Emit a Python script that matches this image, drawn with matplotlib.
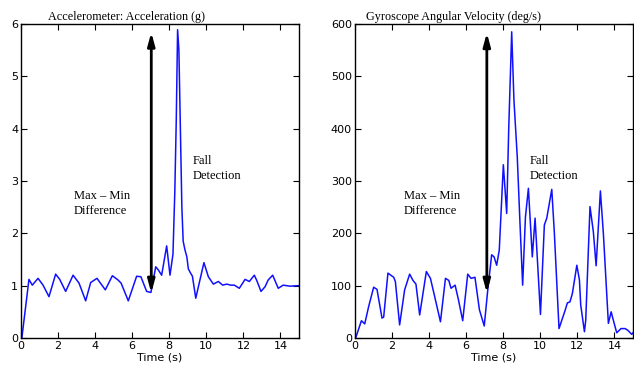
import sys
import numpy as np
import matplotlib
matplotlib.use('Agg')
import matplotlib.pyplot as plt

# accelerometer, g
ACC_T = [0.05, 0.43, 0.61, 0.92, 1.19, 1.51, 1.87, 2.09, 2.41, 2.81, 3.13, 3.49, 3.76,
         4.10, 4.55, 4.93, 5.23, 5.40, 5.79, 6.24, 6.47, 6.78, 7.01, 7.27, 7.41, 7.59,
         7.86, 8.04, 8.20, 8.30, 8.38, 8.45, 8.52, 8.60, 8.68, 8.75, 8.85, 8.95, 9.03,
         9.15, 9.25, 9.43, 9.87, 10.11, 10.38, 10.65, 10.88, 11.10, 11.31, 11.51, 11.78,
         12.09, 12.32, 12.59, 12.72, 12.95, 13.17, 13.34, 13.58, 13.88, 14.15, 14.51, 14.96]
ACC_G = [0.01, 1.12, 1.01, 1.14, 1.01, 0.79, 1.22, 1.12, 0.89, 1.20, 1.05, 0.71, 1.06,
         1.14, 0.92, 1.19, 1.11, 1.05, 0.71, 1.18, 1.17, 0.89, 0.87, 1.36, 1.30, 1.20,
         1.76, 1.20, 1.60, 2.80, 4.20, 5.89, 5.50, 4.00, 2.50, 1.85, 1.68, 1.55, 1.32,
         1.24, 1.18, 0.76, 1.44, 1.17, 1.03, 1.08, 1.01, 1.03, 1.01, 1.01, 0.95,
         1.12, 1.08, 1.20, 1.10, 0.89, 0.98, 1.11, 1.20, 0.95, 1.01, 0.99, 1.00]

# gyroscope, deg/s
GYR_T = [0.07, 0.36, 0.54, 0.75, 1.02, 1.20, 1.47, 1.56, 1.79, 2.10, 2.19, 2.42, 2.69,
         2.96, 3.14, 3.30, 3.50, 3.86, 4.08, 4.31, 4.62, 4.89, 5.07, 5.19, 5.41, 5.59,
         5.82, 6.09, 6.27, 6.48, 6.72, 6.98, 7.17, 7.38, 7.51, 7.65, 7.79, 8.01, 8.19,
         8.30, 8.46, 8.58, 8.76, 8.90, 9.05, 9.20, 9.36, 9.57, 9.72, 10.01, 10.22, 10.35,
         10.62, 10.76, 11.01, 11.34, 11.46, 11.60, 11.73, 11.97, 12.11, 12.18, 12.38,
         12.45, 12.68, 12.86, 13.01, 13.24, 13.40, 13.67, 13.82, 13.96, 14.12, 14.35,
         14.57, 14.71, 14.93, 15.0]
GYR_V = [2, 33, 27, 60, 97, 93, 38, 40, 124, 116, 108, 25, 92,
         122, 110, 103, 44, 127, 114, 79, 31, 114, 110, 95, 101, 73,
         33, 122, 114, 116, 54, 23, 92, 159, 155, 139, 168, 331, 238,
         400, 585, 455, 346, 225, 101, 231, 286, 155, 229, 45, 216, 229,
         284, 200, 18, 53, 67, 69, 85, 139, 111, 63, 12,
         34, 251, 203, 138, 281, 200, 28, 50, 31, 10, 18,
         18, 15, 7, 10]

TITLES = ['Accelerometer: Acceleration (g)', 'Gyroscope Angular Velocity (deg/s)']
XLABEL = 'Time (s)'

# arrow: x, bottom, top
ACC_ARROW = [7.03, 0.86, 5.84]
GYR_ARROW = [7.12, 86, 583]

SERIF = 'Liberation Serif'


def setup_axes(ax, ymax, ystep):
    ax.set_xlim(0, 15)
    ax.set_ylim(0, ymax)
    ax.set_xticks(np.arange(0, 15, 2))
    ax.set_yticks(np.arange(0, ymax + 1e-9, ystep))
    ax.tick_params(direction='in', top=True, right=True, length=4, width=0.8,
                   labelsize=8, pad=2)
    ax.set_xlabel(XLABEL, fontsize=8, labelpad=1)
    for s in ax.spines.values():
        s.set_linewidth(1.0)


def draw_arrow(ax, arr):
    ax.annotate('', xy=(arr[0], arr[2]), xytext=(arr[0], arr[1]),
                arrowprops=dict(arrowstyle='<|-|>,head_length=0.55,head_width=0.15',
                                lw=2.0, color='black', shrinkA=0, shrinkB=0,
                                mutation_scale=14))


def main(argv):
    fig = plt.figure(figsize=(6.34, 3.66), dpi=100)
    ax1 = fig.add_axes([0.0331, 0.0765, 0.4385, 0.858])
    ax2 = fig.add_axes([0.5595, 0.0765, 0.4390, 0.858])

    ax1.plot(ACC_T, ACC_G, color='#1010ff', lw=1.1)
    setup_axes(ax1, 6, 1)
    draw_arrow(ax1, ACC_ARROW)
    ax1.text(2.86, 2.83, 'Max – Min\nDifference', family=SERIF, fontsize=9,
             va='top', ha='left', linespacing=1.3)
    ax1.text(9.28, 3.5, 'Fall\nDetection', family=SERIF, fontsize=9,
             va='top', ha='left', linespacing=1.3)

    ax2.plot(GYR_T, GYR_V, color='#1010ff', lw=1.1)
    setup_axes(ax2, 600, 100)
    draw_arrow(ax2, GYR_ARROW)
    ax2.text(2.66, 283, 'Max – Min\nDifference', family=SERIF, fontsize=9,
             va='top', ha='left', linespacing=1.3)
    ax2.text(9.43, 350, 'Fall\nDetection', family=SERIF, fontsize=9,
             va='top', ha='left', linespacing=1.3)

    fig.text(48 / 634, 1 - 17 / 366, TITLES[0], family=SERIF, fontsize=8.7,
             ha='left', va='center')
    fig.text(366 / 634, 1 - 17 / 366, TITLES[1], family=SERIF, fontsize=8.7,
             ha='left', va='center')

    fig.savefig('out.png', dpi=100)
    return 0


if __name__ == '__main__':
    sys.exit(main(sys.argv))
